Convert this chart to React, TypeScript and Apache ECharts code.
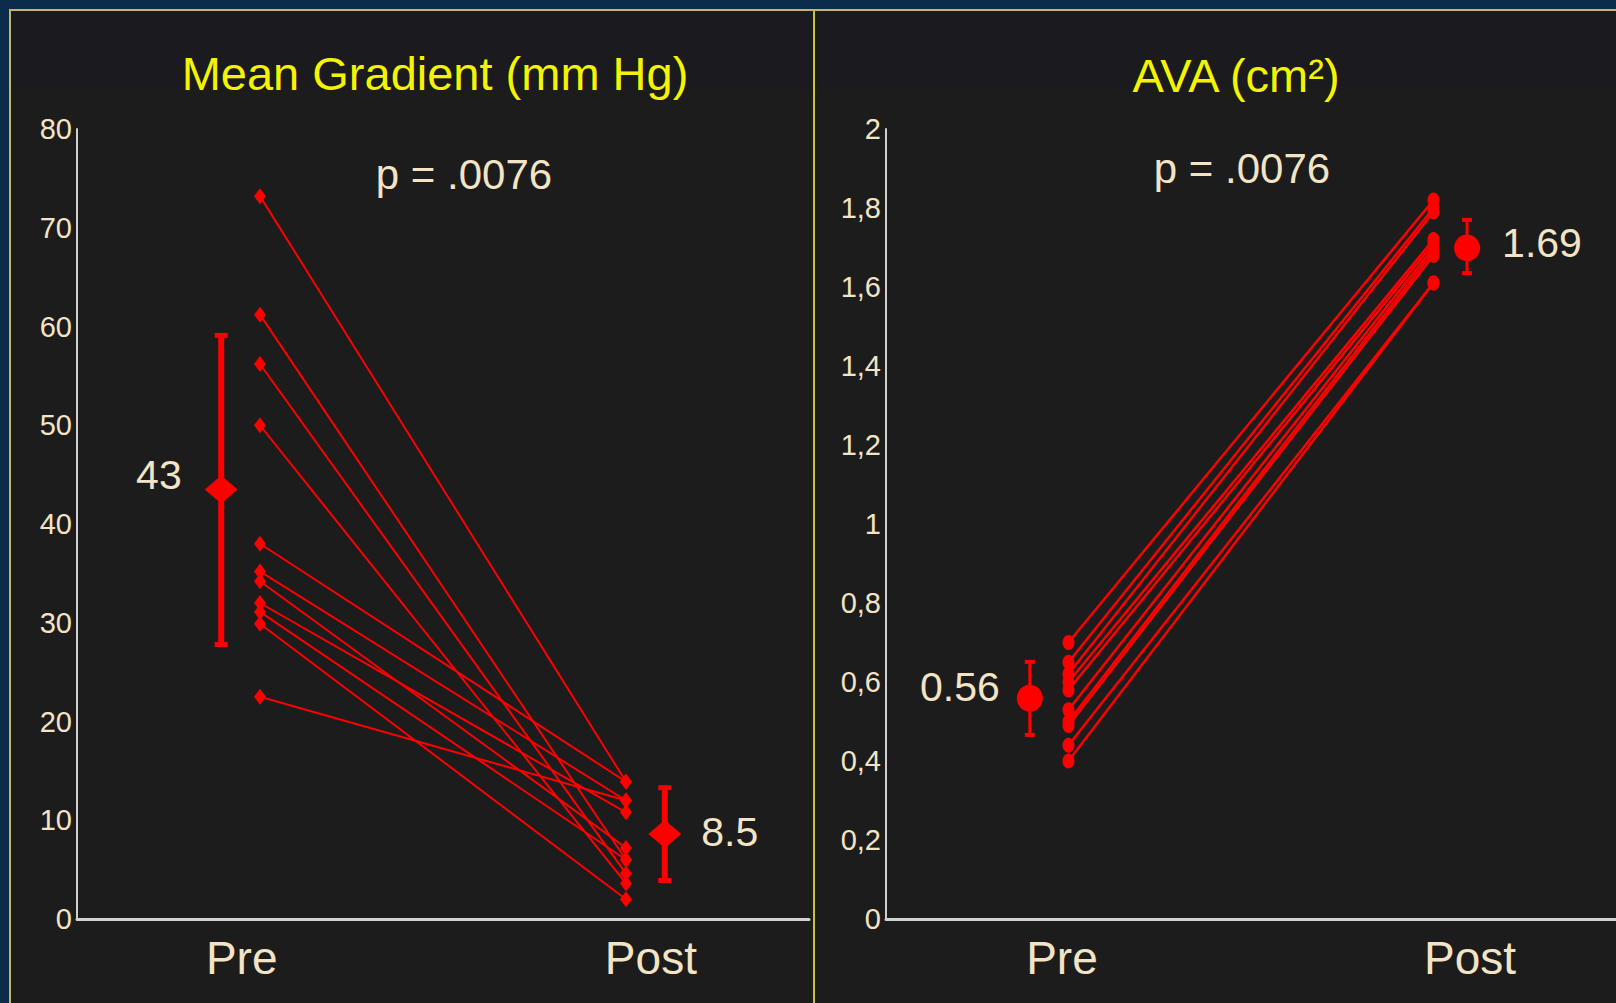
import React, { useEffect, useRef } from "react";
import * as echarts from "echarts";

// ---- data ----
const categories = ["Pre", "Post"];

// Mean gradient (mm Hg), paired values per patient
const gradientPre = [73.2, 61.2, 56.2, 50.0, 38.0, 35.2, 34.2, 32.0, 31.1, 29.9, 22.5];
const gradientPost = [13.9, 6.0, 4.6, 3.6, 13.9, 12.0, 7.2, 10.8, 6.0, 2.0, 12.0];
const gradientMean = [43.5, 8.6];
const gradientLow = [27.8, 3.9];
const gradientHigh = [59.1, 13.3];
const gradientMeanLabels = ["43", "8.5"];
const gradientTicks = [0, 10, 20, 30, 40, 50, 60, 70, 80];

// AVA (cm²), paired values per patient
const avaPre = [0.70, 0.65, 0.62, 0.60, 0.58, 0.53, 0.50, 0.49, 0.44, 0.40];
const avaPost = [1.82, 1.80, 1.79, 1.72, 1.71, 1.70, 1.69, 1.68, 1.61, 1.61];
const avaMean = [0.559, 1.699];
const avaLow = [0.466, 1.635];
const avaHigh = [0.651, 1.77];
const avaMeanLabels = ["0.56", "1.69"];
const avaTicks = [0, 0.2, 0.4, 0.6, 0.8, 1, 1.2, 1.4, 1.6, 1.8, 2];

const titles = ["Mean Gradient (mm Hg)", "AVA (cm²)"];
const pValues = ["p = .0076", "p = .0076"];

// ---- layout (x positions on a 0..100 hidden scale) ----
const PRE_X = 25;
const POST_X = 75;
const MEAN_X_LEFT = [19.7, 80.3];
const MEAN_X_RIGHT = [19.7, 79.6];
const LABEL_X_LEFT = [22.5, 78.4];
const LABEL_X_RIGHT = [24.1, 80];

const RED = "#ff0000";
const CREAM = "#f3e4c6";
const YELLOW = "#f4f400";
const FONT = "'Liberation Sans', Arial, sans-serif";

function makeXAxis(gridIndex: number, labelX: number[]) {
  return {
    type: "value",
    gridIndex,
    min: 0,
    max: 100,
    axisLine: { show: true, onZero: false, lineStyle: { color: "#d2d2d2", width: 3 } },
    axisTick: { show: false },
    splitLine: { show: false },
    axisLabel: {
      customValues: labelX,
      color: CREAM,
      fontSize: 46,
      fontFamily: FONT,
      margin: 16,
      formatter: (v: number) => {
        let best = -1;
        let bd = 1e9;
        labelX.forEach((lx, i) => {
          const d = Math.abs(lx - v);
          if (d < bd) {
            bd = d;
            best = i;
          }
        });
        return bd < 1 ? categories[best] : "";
      },
    },
  };
}

function makeYAxis(gridIndex: number, ticks: number[], comma: boolean) {
  return {
    type: "value",
    gridIndex,
    min: ticks[0],
    max: ticks[ticks.length - 1],
    interval: ticks[1] - ticks[0],
    axisLine: { show: true, lineStyle: { color: "#cfcfcf", width: 2 } },
    axisTick: { show: false },
    splitLine: { show: false },
    axisLabel: {
      color: CREAM,
      fontSize: 29,
      fontFamily: FONT,
      margin: 5,
      formatter: (v: number) => {
        const r = Math.round(v * 10) / 10;
        const s = String(r);
        return comma ? s.replace(".", ",") : s;
      },
    },
  };
}

function errorBarSeries(
  axisIndex: number,
  xs: number[],
  lows: number[],
  highs: number[],
  barWidth: number,
  capWidth: number,
  capThick: number
) {
  return {
    type: "custom",
    xAxisIndex: axisIndex,
    yAxisIndex: axisIndex,
    z: 3,
    silent: true,
    data: xs.map((x, i) => [x, lows[i], highs[i]]),
    encode: { x: 0, y: [1, 2] },
    renderItem: (params: any, api: any) => {
      const x = api.value(0);
      const lo = api.coord([x, api.value(1)]);
      const hi = api.coord([x, api.value(2)]);
      return {
        type: "group",
        children: [
          {
            type: "line",
            shape: { x1: lo[0], y1: lo[1], x2: hi[0], y2: hi[1] },
            style: { stroke: RED, lineWidth: barWidth },
          },
          {
            type: "line",
            shape: { x1: lo[0] - capWidth / 2, y1: lo[1], x2: lo[0] + capWidth / 2, y2: lo[1] },
            style: { stroke: RED, lineWidth: capThick },
          },
          {
            type: "line",
            shape: { x1: hi[0] - capWidth / 2, y1: hi[1], x2: hi[0] + capWidth / 2, y2: hi[1] },
            style: { stroke: RED, lineWidth: capThick },
          },
        ],
      };
    },
  };
}

function pairSeries(
  axisIndex: number,
  pre: number[],
  post: number[],
  symbol: string,
  size: number[],
  width: number
) {
  return pre.map((p, i) => ({
    type: "line",
    xAxisIndex: axisIndex,
    yAxisIndex: axisIndex,
    z: 2,
    silent: true,
    symbol,
    symbolSize: size,
    showSymbol: true,
    lineStyle: { color: RED, width },
    itemStyle: { color: RED, opacity: 1 },
    data: [
      [PRE_X, p],
      [POST_X, post[i]],
    ],
  }));
}

function meanSeries(
  axisIndex: number,
  xs: number[],
  means: number[],
  labels: string[],
  symbol: string,
  size: number[],
  labelCfg: any[]
) {
  return {
    type: "scatter",
    xAxisIndex: axisIndex,
    yAxisIndex: axisIndex,
    z: 4,
    silent: true,
    symbol,
    symbolSize: size,
    itemStyle: { color: RED, opacity: 1 },
    data: xs.map((x, i) => ({
      value: [x, means[i]],
      label: {
        show: true,
        formatter: labels[i],
        color: CREAM,
        opacity: 1,
        fontSize: 41,
        fontFamily: FONT,
        ...labelCfg[i],
      },
    })),
  };
}

export default function App() {
  const ref = useRef<HTMLDivElement>(null);

  useEffect(() => {
    document.body.style.margin = "0";
    if (!ref.current) return;
    const chart = echarts.init(ref.current, undefined, { renderer: "svg" });

    const option: any = {
      animation: false,
      backgroundColor: "#1c1c1c",
      grid: [
        { left: 77, top: 129, width: 732, height: 790, containLabel: false },
        { left: 886, top: 129, width: 730, height: 790, containLabel: false },
      ],
      xAxis: [makeXAxis(0, LABEL_X_LEFT), makeXAxis(1, LABEL_X_RIGHT)],
      yAxis: [makeYAxis(0, gradientTicks, false), makeYAxis(1, avaTicks, true)],
      graphic: [
        // subtle top band
        { type: "rect", z: -10, shape: { x: 10, y: 11, width: 1606, height: 79 }, style: { fill: "#1a1a1f" } },
        // navy frame
        { type: "rect", z: 1, shape: { x: 0, y: 0, width: 1616, height: 9 }, style: { fill: "#0b2c4b" } },
        { type: "rect", z: 1, shape: { x: 0, y: 0, width: 9, height: 1003 }, style: { fill: "#0b2c4b" } },
        // tan frame lines
        { type: "rect", z: 1, shape: { x: 9, y: 9, width: 1607, height: 2 }, style: { fill: "#c6b46c" } },
        { type: "rect", z: 1, shape: { x: 9, y: 9, width: 2, height: 994 }, style: { fill: "#c6b46c" } },
        // divider
        { type: "rect", z: 1, shape: { x: 813, y: 11, width: 2, height: 992 }, style: { fill: "#c9c23c" } },
        // titles
        {
          type: "text",
          z: 5,
          x: 435,
          y: 73,
          style: { text: titles[0], fill: YELLOW, font: `47px ${FONT}`, textAlign: "center", textVerticalAlign: "middle" },
        },
        {
          type: "text",
          z: 5,
          x: 1236,
          y: 75,
          style: { text: titles[1], fill: YELLOW, font: `47px ${FONT}`, textAlign: "center", textVerticalAlign: "middle" },
        },
        {
          type: "text",
          z: 5,
          x: 464,
          y: 174,
          style: { text: pValues[0], fill: CREAM, font: `42px ${FONT}`, textAlign: "center", textVerticalAlign: "middle" },
        },
        {
          type: "text",
          z: 5,
          x: 1242,
          y: 168,
          style: { text: pValues[1], fill: CREAM, font: `42px ${FONT}`, textAlign: "center", textVerticalAlign: "middle" },
        },
      ],
      series: [
        ...pairSeries(0, gradientPre, gradientPost, "diamond", [12, 16], 2),
        ...pairSeries(1, avaPre, avaPost, "circle", [12, 15], 2.5),
        errorBarSeries(0, MEAN_X_LEFT, gradientLow, gradientHigh, 6, 13, 5),
        errorBarSeries(1, MEAN_X_RIGHT, avaLow, avaHigh, 3, 10, 4),
        meanSeries(0, MEAN_X_LEFT, gradientMean, gradientMeanLabels, "diamond", [33, 28], [
          { position: "left", distance: 23, offset: [0, -14] },
          { position: "right", distance: 20, offset: [0, -2] },
        ]),
        meanSeries(1, MEAN_X_RIGHT, avaMean, avaMeanLabels, "circle", [26, 27], [
          { position: "left", distance: 17, offset: [0, -11] },
          { position: "right", distance: 22, offset: [0, -5] },
        ]),
      ],
    };

    chart.setOption(option);
    return () => chart.dispose();
  }, []);

  return <div ref={ref} style={{ width: 1616, height: 1003 }} />;
}
